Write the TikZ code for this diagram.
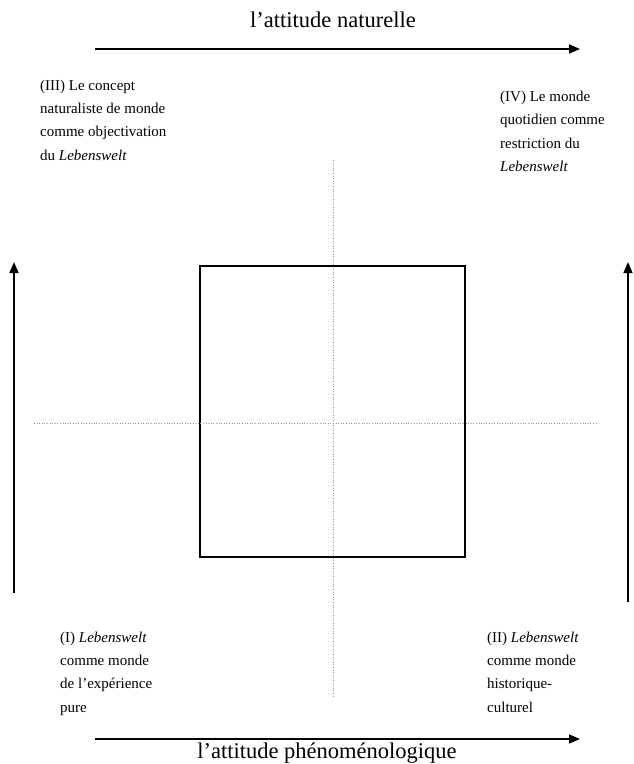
\documentclass[tikz,border=0pt]{standalone}
\usepackage{fontspec}
\setmainfont{Liberation Serif}
\usepackage{tikz}
\usetikzlibrary{positioning, arrows.meta, shapes, calc}
\definecolor{DotGray}{RGB}{150,150,150}

\begin{document}
\begin{tikzpicture}[x=1pt, y=-1pt,
    fleche/.style={-{Triangle[length=11pt, width=9pt]}, line width=1.6pt, black},
    pointille/.style={DotGray, line width=0.9pt, dash pattern=on 1pt off 1.6pt},
    quadrant/.style={anchor=north west, inner sep=0pt, align=left, font=\fontsize{15}{23.3}\selectfont},
    titre/.style={anchor=base, inner sep=0pt, font=\fontsize{22.5}{27}\selectfont}]
                \useasboundingbox (0,0) rectangle (634,764);
                % Nodos
                \node[titre] (TN) at (333,27) {l’attitude naturelle};
                \node[titre] (TP) at (327,758) {l’attitude phénoménologique};
                \node[draw, line width=1.5pt, minimum width=265pt, minimum height=291pt, inner sep=0pt] (BX) at (332.5,411.5) {};
                \coordinate (AH1) at (95,49);   \coordinate (AH2) at (580,49);
                \coordinate (AB1) at (95,739);  \coordinate (AB2) at (580,739);
                \coordinate (AG1) at (14,593);  \coordinate (AG2) at (14,262);
                \coordinate (AD1) at (628,602); \coordinate (AD2) at (628,262);
                \coordinate (PV1) at (333,160); \coordinate (PV2) at (333,697);
                \coordinate (PH1) at (34,423);  \coordinate (PH2) at (598,423);

                % Conexiones
                \draw[pointille] (PV1) -- (PV2);
                \draw[pointille] (PH1) -- (PH2);
                \draw[fleche] (AH1) -- (AH2);
                \draw[fleche] (AB1) -- (AB2);
                \draw[fleche] (AG1) -- (AG2);
                \draw[fleche] (AD1) -- (AD2);

                % Etiquetas
                \node[quadrant] (QIII) at (40,79.5) {(III) Le concept\\naturaliste de monde\\comme objectivation\\du \textit{Lebenswelt}};
                \node[quadrant] (QIV) at (500,91) {(IV) Le monde\\quotidien comme\\restriction du\\\textit{Lebenswelt}};
                \node[quadrant] (QI) at (60,631.5) {(I) \textit{Lebenswelt}\\comme monde\\de l’expérience\\pure};
                \node[quadrant] (QII) at (487,631.5) {(II) \textit{Lebenswelt}\\comme monde\\historique-\\culturel};
            \end{tikzpicture}
\end{document}
